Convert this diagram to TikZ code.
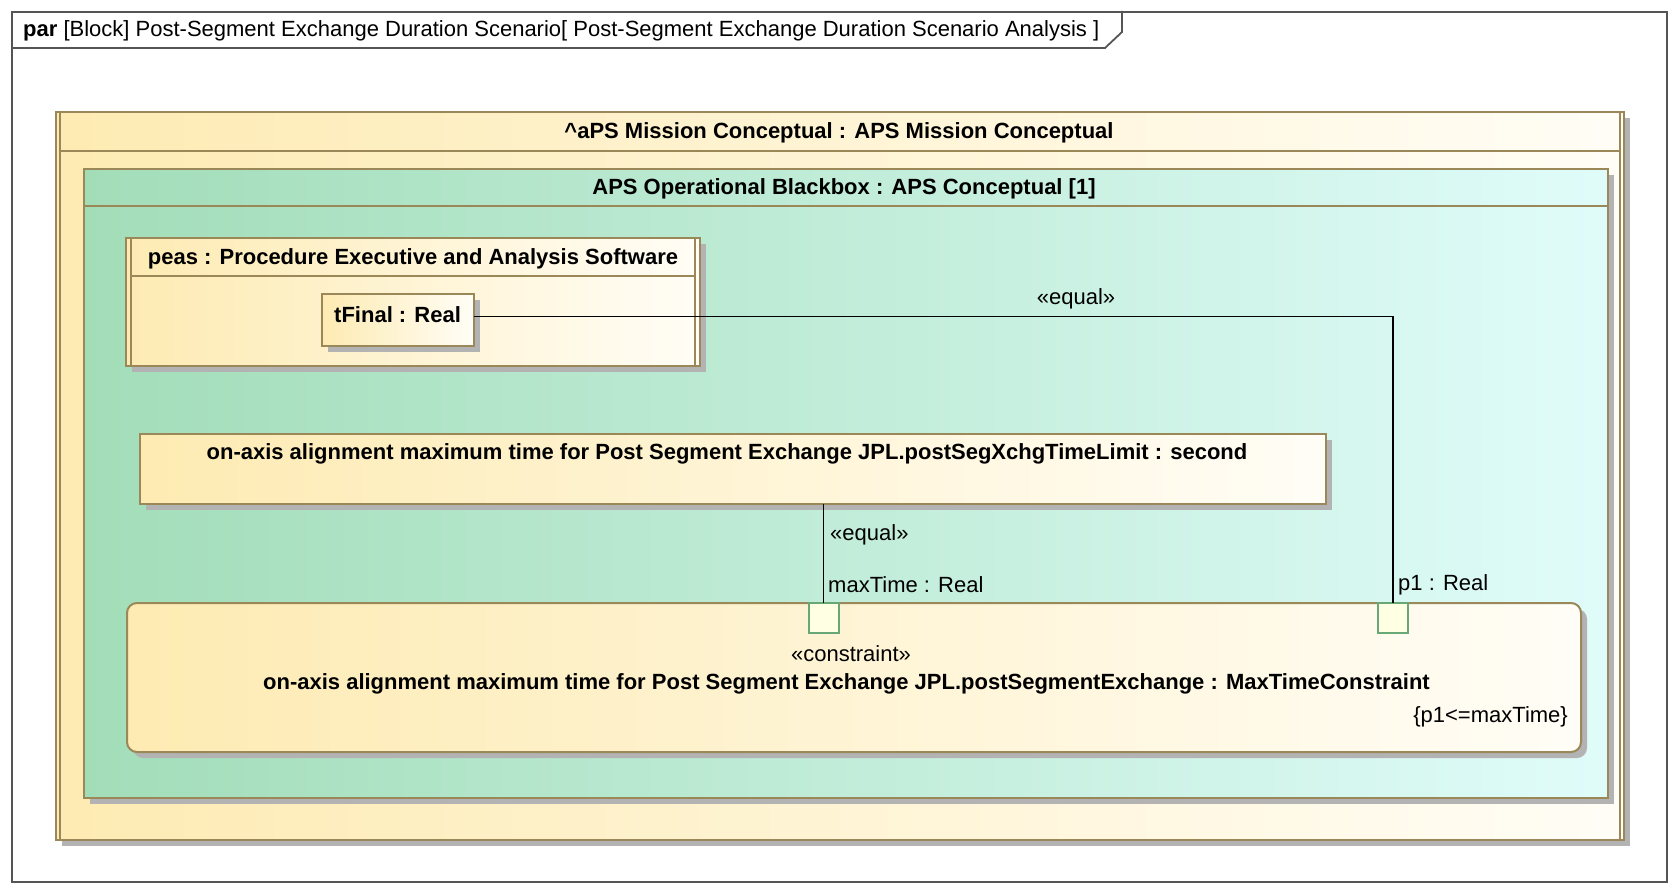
\documentclass[tikz,border=0pt]{standalone}
\usepackage{fontspec}
\setmainfont{Liberation Sans}
\definecolor{bord}{HTML}{9A8858}
\definecolor{yelL}{HTML}{FEEBB3}
\definecolor{yelR}{HTML}{FFFDF6}
\definecolor{grnL}{HTML}{A2DDB8}
\definecolor{grnR}{HTML}{E0FCFA}
\definecolor{shad}{HTML}{B3B3B3}
\definecolor{portfill}{HTML}{FFFFE3}
\definecolor{portline}{HTML}{68A877}
\definecolor{framecol}{HTML}{555555}
\begin{document}
\begin{tikzpicture}[x=1pt,y=-1pt,
  font=\fontsize{22}{26}\selectfont,
  box/.style={draw=bord, line width=2pt, inner sep=0pt, outer sep=0pt, anchor=north west},
  yelbox/.style={box, left color=yelL, right color=yelR},
  grnbox/.style={box, left color=grnL, right color=grnR},
  port/.style={draw=portline, fill=portfill, line width=2pt, minimum size=30pt, inner sep=0pt, outer sep=0pt},
  conn/.style={draw=black, line width=1.6pt},
  lbl/.style={inner sep=0pt},
  bline/.style={draw=bord, line width=2pt}]
\useasboundingbox (0,0) rectangle (1676,890);
% frame
\node[draw=framecol, line width=1.8pt, minimum width=1655pt, minimum height=870pt, anchor=north west, inner sep=0pt] (frame) at (11,11) {};
\draw[framecol, line width=1.8pt] (11,48) -- (1105,48) -- (1122,32) -- (1122,11);
\node[lbl, anchor=west] (title) at (23,31) {\textbf{par} [Block] Post-Segment Exchange Duration Scenario[ Post-Segment Exchange Duration Scenario Analysis ]};
% aPS block
\fill[shad] (62,118) rectangle (1630,846);
\node[yelbox, minimum width=1568pt, minimum height=728pt] (aps) at (56,112) {};
\draw[bline] (60,112) -- (60,840);
\draw[bline] (1620,112) -- (1620,840);
\draw[bline] (60,151) -- (1620,151);
\node[lbl] (apsT) at (839,133) {\textbf{\textasciicircum{}aPS Mission Conceptual : APS Mission Conceptual}};
% green blackbox
\fill[shad] (90,175) rectangle (1614,804);
\node[grnbox, minimum width=1524pt, minimum height=629pt] (bb) at (84,169) {};
\draw[bline] (84,206.5) -- (1608,206.5);
\node[lbl] (bbT) at (844,189) {\textbf{APS Operational Blackbox : APS Conceptual [1]}};
% peas
\fill[shad] (132,244) rectangle (706,372);
\node[yelbox, minimum width=574pt, minimum height=128pt] (peas) at (126,238) {};
\draw[bline] (131,238) -- (131,366);
\draw[bline] (695,238) -- (695,366);
\draw[bline] (131,276) -- (695,276);
\node[lbl] (peasT) at (413,259) {\textbf{peas : Procedure Executive and Analysis Software}};
% tFinal
\fill[shad] (328,300) rectangle (480,352);
\node[yelbox, minimum width=152pt, minimum height=52pt] (tfinal) at (322,294) {};
\node[lbl, anchor=west] (tfinalT) at (334,315) {\textbf{tFinal : Real}};
% property box
\fill[shad] (146,440) rectangle (1332,510);
\node[yelbox, minimum width=1186pt, minimum height=70pt] (prop) at (140,434) {};
\node[lbl] (propT) at (727,454) {\textbf{on-axis alignment maximum time for Post Segment Exchange JPL.postSegXchgTimeLimit : second}};
% constraint box
\fill[shad, rounded corners=10pt] (133,609) rectangle (1587,758);
\node[yelbox, rounded corners=10pt, minimum width=1454pt, minimum height=149pt] (cons) at (127,603) {};
\node[lbl] (consS) at (851,653.5) {«constraint»};
\node[lbl] (consT) at (846.5,684) {\textbf{on-axis alignment maximum time for Post Segment Exchange JPL.postSegmentExchange : MaxTimeConstraint}};
\node[lbl, anchor=east] (consE) at (1568,717) {\{p1<=maxTime\}};
% ports
\node[port] (pmax) at (823.5,618) {};
\node[port] (pp1) at (1393,617.5) {};
% connectors
\draw[conn] (pmax.north |- prop.south) -- (pmax.north);
\draw[conn] ([yshift=3.5pt]tfinal.east) -| (pp1.north);
% labels
\node[lbl] (eq1) at (1076,299) {«equal»};
\node[lbl, anchor=west] (eq2) at (830,535) {«equal»};
\node[lbl, anchor=west] (maxL) at (828,584.5) {maxTime : Real};
\node[lbl, anchor=west] (p1L) at (1398,585) {p1 : Real};
\end{tikzpicture}
\end{document}
